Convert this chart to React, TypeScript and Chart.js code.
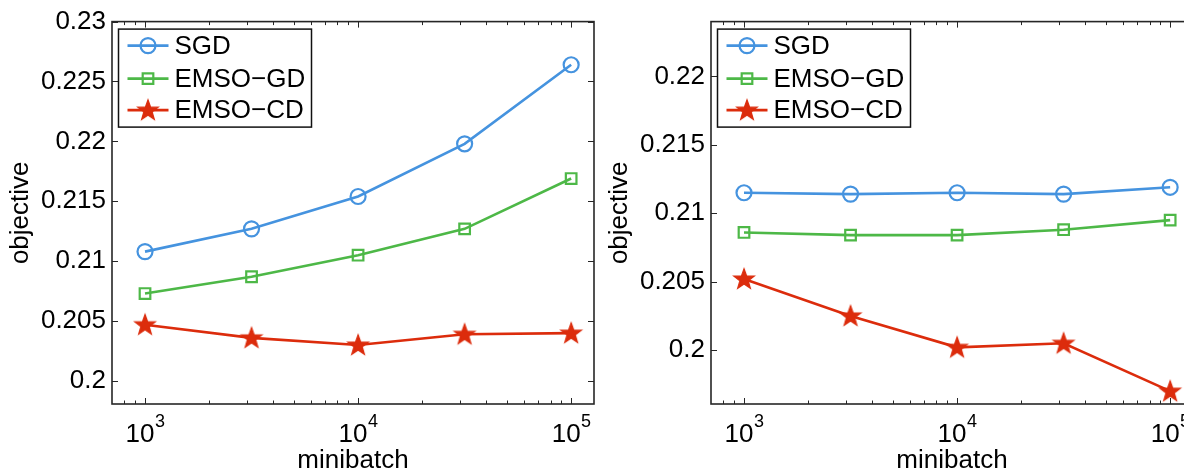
import React, { useEffect, useRef } from "react";
import { Chart, registerables } from "chart.js";

Chart.register(...registerables);

// ---------- data ----------
const minibatch = [1000, 3162, 10000, 31623, 100000];
const seriesLabels = ["SGD", "EMSO\u2212GD", "EMSO\u2212CD"];

const leftSGD = [0.2108, 0.2127, 0.2154, 0.2198, 0.2264];
const leftGD = [0.2073, 0.2087, 0.2105, 0.2127, 0.2169];
const leftCD = [0.2047, 0.2036, 0.203, 0.2039, 0.204];

const rightSGD = [0.2115, 0.2114, 0.2115, 0.2114, 0.2119];
const rightGD = [0.2086, 0.2084, 0.2084, 0.2088, 0.2095];
const rightCD = [0.2052, 0.2025, 0.2002, 0.2005, 0.197];

const leftYTicks = [0.2, 0.205, 0.21, 0.215, 0.22, 0.225, 0.23];
const leftYLabels = ["0.2", "0.205", "0.21", "0.215", "0.22", "0.225", "0.23"];
const rightYTicks = [0.2, 0.205, 0.21, 0.215, 0.22];
const rightYLabels = ["0.2", "0.205", "0.21", "0.215", "0.22"];
const leftYRange = [0.19808, 0.23];
const rightYRange = [0.19606, 0.22401];

const xRange = [700, 128000];
const xMajorTicks = [1000, 10000, 100000];
const xTickExponents = ["3", "4", "5"];
const xTitle = "minibatch";
const yTitle = "objective";

// ---------- styles ----------
const FONT = '"Liberation Sans", Arial, Helvetica, sans-serif';
const FS = 26;
const BLUE = "#4593DF";
const GREEN = "#4DB847";
const RED = "#DC2C0C";
const AXIS = "#262626";

function makeStar(color: string): HTMLCanvasElement {
  const c = document.createElement("canvas");
  c.width = 26;
  c.height = 26;
  const ctx = c.getContext("2d")!;
  const cx = 13, cy = 13.5, R = 10.8, r = 4.4;
  ctx.beginPath();
  for (let i = 0; i < 10; i++) {
    const a = -Math.PI / 2 + (i * Math.PI) / 5;
    const rad = i % 2 === 0 ? R : r;
    ctx.lineTo(cx + rad * Math.cos(a), cy + rad * Math.sin(a));
  }
  ctx.closePath();
  ctx.fillStyle = color;
  ctx.fill();
  ctx.lineWidth = 1.2;
  ctx.strokeStyle = color;
  ctx.stroke();
  return c;
}

function drawMarker(ctx: CanvasRenderingContext2D, ds: any, x: number, y: number) {
  const style = ds.pointStyle;
  if (style instanceof HTMLCanvasElement) {
    ctx.drawImage(style, x - style.width / 2, y - style.height / 2);
    return;
  }
  ctx.save();
  ctx.strokeStyle = ds.pointBorderColor;
  ctx.lineWidth = ds.pointBorderWidth;
  ctx.beginPath();
  if (style === "circle") {
    ctx.arc(x, y, ds.pointRadius, 0, Math.PI * 2);
  } else {
    const s = Math.SQRT1_2 * ds.pointRadius;
    ctx.rect(x - s, y - s, 2 * s, 2 * s);
  }
  ctx.stroke();
  ctx.restore();
}

const matlabPlugin = {
  id: "matlabAxes",
  afterDraw(chart: any) {
    const { ctx, chartArea: ca, scales } = chart;
    const xs = scales.x;
    const ys = scales.y;
    ctx.save();
    // box
    ctx.strokeStyle = AXIS;
    ctx.lineWidth = 1.6;
    ctx.strokeRect(ca.left, ca.top, ca.right - ca.left, ca.bottom - ca.top);
    // x ticks (major + minor), inward on bottom and top
    ctx.lineWidth = 1;
    ctx.beginPath();
    for (let k = 2; k <= 5; k++) {
      for (let m = 1; m <= 9; m++) {
        const v = m * Math.pow(10, k);
        if (v <= xRange[0] || v >= xRange[1]) continue;
        const px = Math.round(xs.getPixelForValue(v)) + 0.5;
        const len = m === 1 ? 6 : 3.5;
        ctx.moveTo(px, ca.bottom);
        ctx.lineTo(px, ca.bottom - len);
        ctx.moveTo(px, ca.top);
        ctx.lineTo(px, ca.top + len);
      }
    }
    // y ticks, inward left and right
    for (const t of ys.ticks) {
      const py = Math.round(ys.getPixelForValue(t.value)) + 0.5;
      ctx.moveTo(ca.left, py);
      ctx.lineTo(ca.left + 6, py);
      ctx.moveTo(ca.right, py);
      ctx.lineTo(ca.right - 6, py);
    }
    ctx.stroke();

    // x tick labels with superscript exponents
    ctx.fillStyle = "#000";
    ctx.textBaseline = "alphabetic";
    ctx.textAlign = "left";
    xMajorTicks.forEach((v, i) => {
      const px = xs.getPixelForValue(v);
      ctx.font = `${FS}px ${FONT}`;
      const wBase = ctx.measureText("10").width;
      ctx.font = `18px ${FONT}`;
      const wExp = ctx.measureText(xTickExponents[i]).width;
      const x0 = px - (wBase + wExp) / 2;
      ctx.font = `${FS}px ${FONT}`;
      ctx.fillText("10", x0, ca.bottom + 38);
      ctx.font = `18px ${FONT}`;
      ctx.fillText(xTickExponents[i], x0 + wBase + 0.5, ca.bottom + 23);
    });

    // legend
    const bx = ca.left + 6.5;
    const by = ca.top + 7.5;
    const bw = 193;
    const bh = 98;
    ctx.fillStyle = "#fff";
    ctx.fillRect(bx, by, bw, bh);
    ctx.strokeStyle = "#111";
    ctx.lineWidth = 1.5;
    ctx.strokeRect(bx, by, bw, bh);
    const rows = [16.5, 49.5, 81];
    chart.data.datasets.forEach((ds: any, i: number) => {
      const y = by + rows[i];
      ctx.strokeStyle = ds.borderColor;
      ctx.lineWidth = ds.borderWidth;
      ctx.beginPath();
      ctx.moveTo(bx + 9, y);
      ctx.lineTo(bx + 50, y);
      ctx.stroke();
      drawMarker(ctx, ds, bx + 29.5, y);
      ctx.fillStyle = "#000";
      ctx.font = `${FS}px ${FONT}`;
      ctx.textBaseline = "middle";
      ctx.fillText(ds.label, bx + 56, y + 1);
    });
    ctx.restore();
  },
};

function makeConfig(
  sgd: number[],
  gd: number[],
  cd: number[],
  yRange: number[],
  yTicks: number[],
  yLabels: string[],
  star: HTMLCanvasElement
): any {
  const pts = (vals: number[]) => minibatch.map((x, i) => ({ x, y: vals[i] }));
  return {
    type: "line",
    data: {
      datasets: [
        {
          label: seriesLabels[0],
          data: pts(sgd),
          borderColor: BLUE,
          borderWidth: 2.6,
          pointStyle: "circle",
          pointRadius: 7.5,
          pointBorderWidth: 2.2,
          pointBorderColor: BLUE,
          pointBackgroundColor: "rgba(0,0,0,0)",
          clip: false,
        },
        {
          label: seriesLabels[1],
          data: pts(gd),
          borderColor: GREEN,
          borderWidth: 2.6,
          pointStyle: "rect",
          pointRadius: 7.5,
          pointBorderWidth: 2.2,
          pointBorderColor: GREEN,
          pointBackgroundColor: "rgba(0,0,0,0)",
          clip: false,
        },
        {
          label: seriesLabels[2],
          data: pts(cd),
          borderColor: RED,
          borderWidth: 2.6,
          pointStyle: star,
          pointRadius: 10,
          pointBorderColor: RED,
          pointBackgroundColor: RED,
          clip: false,
        },
      ],
    },
    options: {
      responsive: false,
      animation: false,
      devicePixelRatio: 1,
      layout: { autoPadding: false, padding: { left: 0, right: 6, top: 21, bottom: 0 } },
      plugins: { legend: { display: false }, tooltip: { enabled: false } },
      scales: {
        x: {
          type: "logarithmic",
          min: xRange[0],
          max: xRange[1],
          grid: { display: false, drawTicks: false },
          border: { display: false },
          ticks: { display: false },
          afterBuildTicks: (s: any) => {
            s.ticks = xMajorTicks.map((v) => ({ value: v }));
          },
          afterFit: (s: any) => {
            s.height = 66;
          },
          title: {
            display: true,
            text: xTitle,
            color: "#000",
            font: { family: FONT, size: FS, lineHeight: 1 },
            padding: { top: 0, bottom: -3.5 },
          },
        },
        y: {
          type: "linear",
          min: yRange[0],
          max: yRange[1],
          grid: { display: false, drawTicks: false },
          border: { display: false },
          afterBuildTicks: (s: any) => {
            s.ticks = yTicks.map((v) => ({ value: v }));
          },
          afterFit: (s: any) => {
            s.width = 112;
          },
          ticks: {
            autoSkip: false,
            padding: 6,
            color: "#000",
            font: { family: FONT, size: FS },
            callback: (v: number) => {
              const i = yTicks.findIndex((t) => Math.abs(t - v) < 1e-9);
              return i >= 0 ? yLabels[i] : "";
            },
          },
          title: {
            display: true,
            text: yTitle,
            color: "#000",
            font: { family: FONT, size: FS, lineHeight: 1 },
            padding: { top: 8, bottom: 0 },
          },
        },
      },
    },
    plugins: [matlabPlugin],
  };
}

function Panel(props: {
  left: number;
  sgd: number[];
  gd: number[];
  cd: number[];
  yRange: number[];
  yTicks: number[];
  yLabels: string[];
}) {
  const ref = useRef<HTMLCanvasElement | null>(null);
  useEffect(() => {
    if (!ref.current) return;
    const star = makeStar(RED);
    const chart = new Chart(
      ref.current,
      makeConfig(props.sgd, props.gd, props.cd, props.yRange, props.yTicks, props.yLabels, star)
    );
    return () => chart.destroy();
  }, []);
  return (
    <canvas
      ref={ref}
      width={600}
      height={470}
      style={{ position: "absolute", left: props.left, top: 0, width: 600, height: 470 }}
    />
  );
}

export default function App() {
  return (
    <div
      style={{
        position: "absolute",
        left: 0,
        top: 0,
        width: 1184,
        height: 470,
        overflow: "hidden",
        background: "#fff",
      }}
    >
      <Panel left={0} sgd={leftSGD} gd={leftGD} cd={leftCD} yRange={leftYRange} yTicks={leftYTicks} yLabels={leftYLabels} />
      <Panel left={599} sgd={rightSGD} gd={rightGD} cd={rightCD} yRange={rightYRange} yTicks={rightYTicks} yLabels={rightYLabels} />
    </div>
  );
}
